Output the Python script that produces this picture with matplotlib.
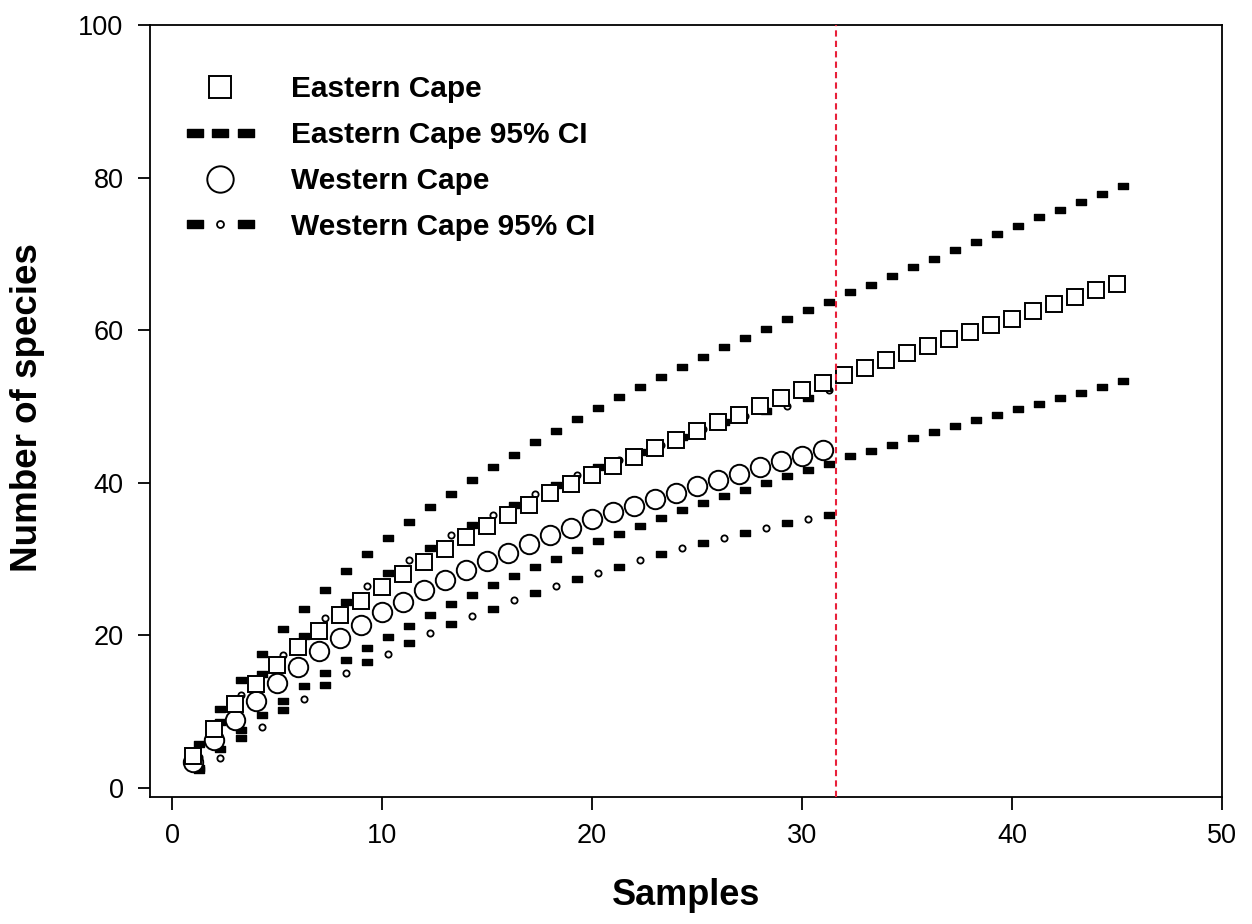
import numpy as np
import matplotlib
matplotlib.use('Agg')
import matplotlib.pyplot as plt
import matplotlib.transforms as mtransforms
from matplotlib.lines import Line2D
from matplotlib.path import Path
from matplotlib.legend_handler import HandlerLine2D

plt.rcParams['font.family'] = ['Liberation Sans', 'DejaVu Sans']

# species accumulation (rarefaction) per province
samples_east = np.arange(1, 46)
samples_west = np.arange(1, 32)

east = [4.2, 7.7, 11.0, 13.6, 16.1, 18.5, 20.6, 22.7, 24.5, 26.3,
        28.0, 29.6, 31.3, 32.9, 34.3, 35.8, 37.1, 38.6, 39.8, 41.0,
        42.2, 43.4, 44.5, 45.6, 46.8, 47.9, 48.9, 50.0, 51.1, 52.2,
        53.1, 54.1, 55.1, 56.1, 57.0, 57.9, 58.9, 59.8, 60.7, 61.5,
        62.5, 63.4, 64.4, 65.2, 66.1]
east_upper = [5.8, 10.4, 14.2, 17.6, 20.8, 23.4, 26.0, 28.4, 30.7, 32.7,
              34.8, 36.8, 38.5, 40.4, 42.0, 43.6, 45.3, 46.8, 48.3, 49.8,
              51.2, 52.5, 53.9, 55.2, 56.5, 57.8, 59.0, 60.2, 61.4, 62.6,
              63.7, 65.0, 65.9, 67.1, 68.3, 69.3, 70.5, 71.6, 72.6, 73.7,
              74.8, 75.8, 76.8, 77.8, 78.9]
east_lower = [2.4, 5.1, 7.6, 9.6, 11.4, 13.4, 15.0, 16.8, 18.3, 19.8,
              21.2, 22.7, 24.1, 25.3, 26.6, 27.8, 28.9, 30.0, 31.2, 32.3,
              33.3, 34.3, 35.4, 36.4, 37.3, 38.2, 39.1, 40.0, 40.9, 41.7,
              42.5, 43.5, 44.2, 45.0, 45.8, 46.6, 47.4, 48.2, 48.9, 49.6,
              50.3, 51.1, 51.8, 52.5, 53.3]

west = [3.4, 6.3, 8.9, 11.4, 13.8, 15.9, 17.9, 19.7, 21.4, 23.0,
        24.4, 25.9, 27.2, 28.5, 29.7, 30.8, 32.0, 33.1, 34.1, 35.2,
        36.1, 37.0, 37.9, 38.7, 39.6, 40.4, 41.2, 42.0, 42.8, 43.5,
        44.3]
west_upper = [4.0, 8.6, 12.2, 14.9, 17.4, 19.9, 22.2, 24.4, 26.4, 28.1,
              29.9, 31.5, 33.2, 34.5, 35.8, 37.1, 38.5, 39.7, 41.0, 42.0,
              43.0, 44.0, 45.0, 46.0, 47.0, 47.9, 48.7, 49.4, 50.0, 51.1,
              52.2]
west_lower = [2.6, 3.9, 6.5, 8.0, 10.2, 11.6, 13.5, 15.0, 16.5, 17.6,
              19.0, 20.3, 21.5, 22.5, 23.5, 24.6, 25.6, 26.5, 27.4, 28.2,
              29.0, 29.9, 30.6, 31.4, 32.1, 32.7, 33.4, 34.0, 34.7, 35.3,
              35.8]

cutoff = 31.6

labels = ['Eastern Cape', 'Eastern Cape 95% CI', 'Western Cape', 'Western Cape 95% CI']

fig = plt.figure(figsize=(12.52, 9.24), dpi=100)
ax = fig.add_axes([150 / 1252, 1 - 797 / 924, 1072 / 1252, 772 / 924])

# flat black dash used as the CI marker
dash = Path([(-1, -0.55), (1, -0.55), (1, 0.55), (-1, 0.55), (-1, -0.55)],
            [Path.MOVETO, Path.LINETO, Path.LINETO, Path.LINETO, Path.CLOSEPOLY])
shift = ax.transData + mtransforms.ScaledTranslation(0.055, 0, fig.dpi_scale_trans)

dash_kw = dict(ls='', marker=dash, ms=7.5, color='k', transform=shift, zorder=2)
dot_kw = dict(ls='', marker='o', ms=4.5, mfc='w', mec='k', mew=1.3,
              transform=shift, zorder=2)

ax.plot(samples_east, east_upper, **dash_kw)
ax.plot(samples_east, east_lower, **dash_kw)

ax.plot(samples_west, west_upper, markevery=slice(1, None, 2), **dash_kw)
ax.plot(samples_west, west_upper, markevery=slice(0, None, 2), **dot_kw)
ax.plot(samples_west, west_lower, markevery=slice(0, None, 2), **dash_kw)
ax.plot(samples_west, west_lower, markevery=slice(1, None, 2), **dot_kw)

ax.plot(samples_west, west, ls='', marker='o', ms=14, mfc='w', mec='k',
        mew=1.4, zorder=3)
ax.plot(samples_east, east, ls='', marker='s', ms=12, mfc='w', mec='k',
        mew=1.4, zorder=4)

ax.axvline(cutoff, color='#e8203a', ls=(0, (3, 2)), lw=1.5, zorder=5)

ax.set_xlim(-1.05, 50)
ax.set_ylim(-1.2, 100)
ax.set_xticks(range(0, 51, 10))
ax.set_yticks(range(0, 101, 20))
ax.tick_params(direction='out', length=9, width=1.3, labelsize=19.5, pad=10)
for sp in ax.spines.values():
    sp.set_linewidth(1.3)

ax.set_xlabel('Samples', fontsize=26, fontweight='bold')
ax.set_ylabel('Number of species', fontsize=26.5, fontweight='bold')
ax.xaxis.set_label_coords(0.5, -0.105)
ax.yaxis.set_label_coords(-0.098, 0.505)

# legend proxies
h_sq = Line2D([], [], ls='', marker='s', ms=16, mfc='w', mec='k', mew=1.4)
h_ec = Line2D([], [], ls='', marker=dash, ms=11, color='k')
h_ci = Line2D([], [], ls='', marker='o', ms=19, mfc='w', mec='k', mew=1.4)
h_wr = Line2D([], [], ls='', marker=dash, ms=11, color='k')
h_wd = Line2D([], [], ls='', marker='o', ms=5, mfc='w', mec='k', mew=1.3)

ax.legend([h_sq, h_ec, h_ci, (h_wr, h_wd)], labels,
          handler_map={h_ec: HandlerLine2D(numpoints=3),
                       h_wr: HandlerLine2D(numpoints=2)},
          numpoints=1, loc='upper left', bbox_to_anchor=(0.0336, 0.935),
          frameon=False, borderpad=0, borderaxespad=0, handlelength=2.3,
          handletextpad=1.2, labelspacing=0.6,
          prop={'weight': 'bold', 'size': 21.5})

fig.savefig('out.png', dpi=100)
